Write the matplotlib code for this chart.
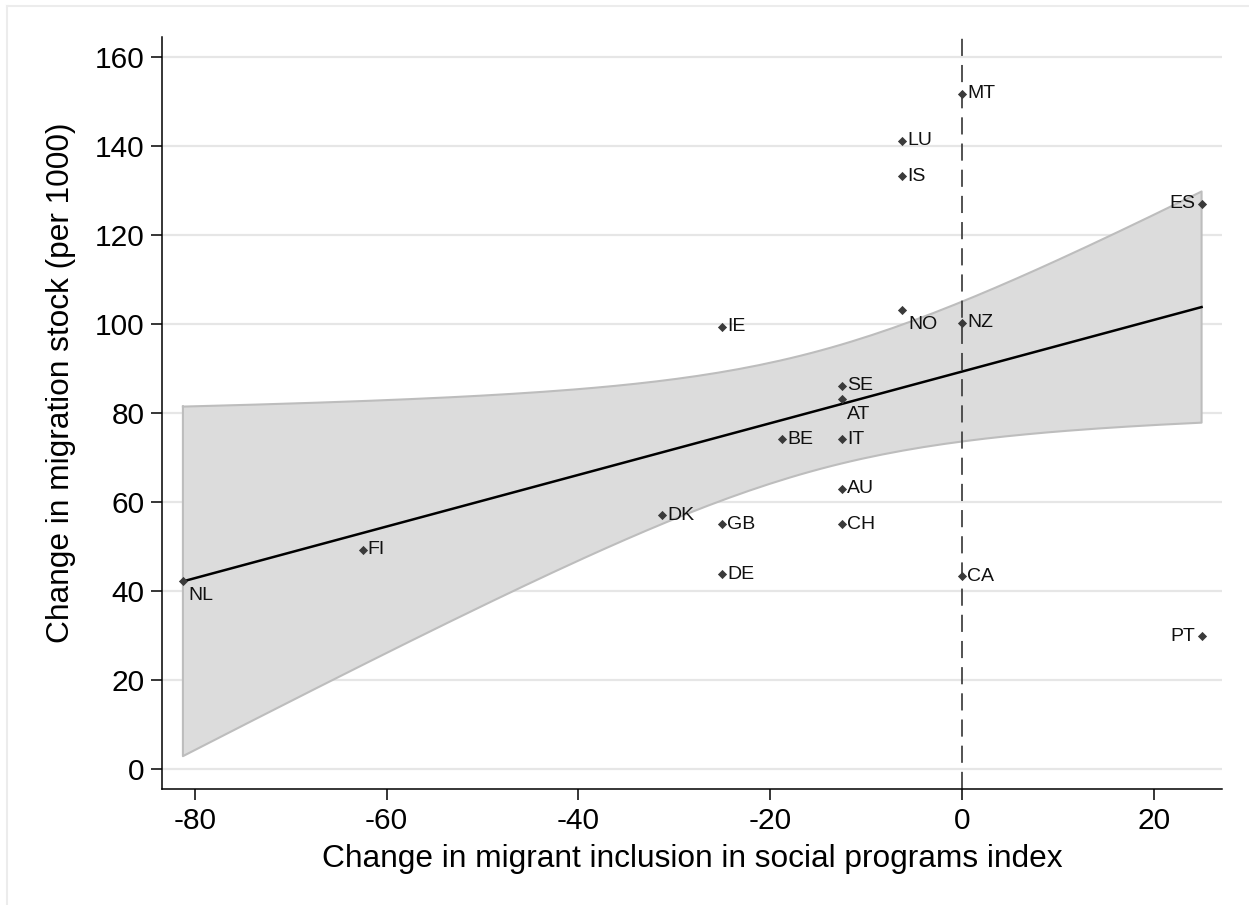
import numpy as np
import matplotlib.pyplot as plt
from matplotlib.lines import Line2D

# country codes, change in inclusion index, change in migration stock (per 1000)
countries = ["AT", "AU", "BE", "CA", "CH", "DE", "DK", "ES", "FI", "GB",
             "IE", "IS", "IT", "LU", "MT", "NL", "NO", "NZ", "PT", "SE"]
incl_change = [-12.5, -12.5, -18.75, 0.0, -12.5, -25.0, -31.25, 25.0, -62.5, -25.0,
               -25.0, -6.25, -12.5, -6.25, 0.0, -81.25, -6.25, 0.0, 25.0, -12.5]
stock_change = [83.2, 63.1, 74.2, 43.4, 55.1, 43.8, 57.1, 127.1, 49.3, 55.1,
                99.4, 133.3, 74.2, 141.3, 151.8, 42.3, 103.3, 100.3, 29.9, 86.2]

x_ticks = [-80, -60, -40, -20, 0, 20]
y_ticks = [0, 20, 40, 60, 80, 100, 120, 140, 160]

# label placement (offset in pixels from the marker)
label_pos = {"NO": (6, -14), "AT": (5, -15), "NL": (5, -14),
             "ES": (-6, 0), "PT": (-6, 0)}

x = np.array(incl_change)
y = np.array(stock_change)

# linear fit with 90% CI of the mean (lfitci style)
n = len(x)
b, a = np.polyfit(x, y, 1)
resid = y - (a + b * x)
s = np.sqrt(np.sum(resid ** 2) / (n - 2))
sxx = np.sum((x - x.mean()) ** 2)
xg = np.linspace(x.min(), x.max(), 100)
yg = a + b * xg
se = s * np.sqrt(1.0 / n + (xg - x.mean()) ** 2 / sxx)
tcrit = 1.734064  # t(0.95, 18)
lo = yg - tcrit * se
hi = yg + tcrit * se

plt.rcParams["font.family"] = ["Liberation Sans", "DejaVu Sans"]
plt.rcParams["axes.unicode_minus"] = False

fig = plt.figure(figsize=(12.49, 9.05), dpi=100)
ax = fig.add_axes([0.12995, 0.12785, 0.8482, 0.83094])

# outer frame (only left and top edges visible)
fig.add_artist(Line2D([7 / 1249, 7 / 1249], [0, 1 - 6 / 905], color="#ececec", lw=1.5))
fig.add_artist(Line2D([7 / 1249, 1], [1 - 6 / 905, 1 - 6 / 905], color="#ececec", lw=1.5))

for yt in y_ticks:
    ax.axhline(yt, color="#e6e6e6", lw=1.6, zorder=0)

ax.fill_between(xg, lo, hi, facecolor="#dcdcdc", edgecolor="none", zorder=1)
poly_x = np.concatenate([xg, xg[::-1], xg[:1]])
poly_y = np.concatenate([hi, lo[::-1], hi[:1]])
ax.plot(poly_x, poly_y, color="#bdbdbd", lw=1.5, zorder=1.5)

ax.axvline(0, color="#444444", lw=1.3, dashes=(9.5, 5), zorder=2)
ax.plot(xg, yg, color="black", lw=1.8, zorder=3)

ax.scatter(x, y, marker="D", s=22, color="#3a3a3a", zorder=4, linewidths=0)

for c, xi, yi in zip(countries, incl_change, stock_change):
    dx, dy = label_pos.get(c, (5, 0))
    ha = "right" if dx < 0 else "left"
    va = "top" if dy < 0 else "center"
    if dy < 0:
        dy = dy + 8
    ax.annotate(c, (xi, yi), xytext=(dx * 0.72, dy * 0.72), textcoords="offset points",
                ha=ha, va=va, fontsize=14, color="#111111", zorder=5)

ax.set_xlim(-83.4, 27.1)
ax.set_ylim(-4.49, 164.5)
ax.set_xticks(x_ticks)
ax.set_yticks(y_ticks)
ax.tick_params(axis="both", labelsize=21.5, length=8, width=1.1, color="black", pad=5)

for side in ["top", "right"]:
    ax.spines[side].set_visible(False)
for side in ["left", "bottom"]:
    ax.spines[side].set_linewidth(1.1)
    ax.spines[side].set_color("black")

ax.set_xlabel("Change in migrant inclusion in social programs index", fontsize=22.8, labelpad=6)
ax.set_ylabel("Change in migration stock (per 1000)", fontsize=22.8)
ax.yaxis.set_label_coords(-0.081, 0.541)

fig.savefig("out.png", dpi=100)
